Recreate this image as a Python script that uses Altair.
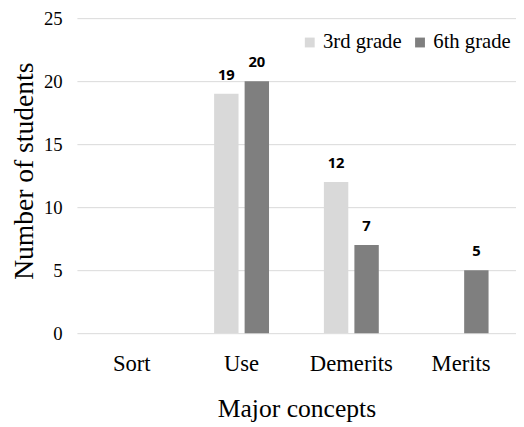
import altair as alt
import pandas as pd

categories = ["Sort", "Use", "Demerits", "Merits"]
grades = ["3rd grade", "6th grade"]
third_grade = [0, 19, 12, 0]
sixth_grade = [0, 20, 7, 5]
colors = ["#d9d9d9", "#7f7f7f"]
y_ticks = [0, 5, 10, 15, 20, 25]

rows = []
for c, a, b in zip(categories, third_grade, sixth_grade):
    rows.append({"concept": c, "grade": grades[0], "count": a})
    rows.append({"concept": c, "grade": grades[1], "count": b})
df = pd.DataFrame(rows)

serif = "Liberation Serif"

x_enc = alt.X(
    "concept:N",
    sort=categories,
    title="Major concepts",
    scale=alt.Scale(paddingInner=0.5, paddingOuter=0.25),
    axis=alt.Axis(
        labelAngle=0, domain=False, ticks=False, grid=False,
        labelFont=serif, labelFontSize=23, labelColor="black", labelPadding=20,
        titleFont=serif, titleFontSize=26, titleFontWeight="normal", titleColor="black",
        titleX=223, titleY=85, titleBaseline="alphabetic", titleAlign="center",
    ),
)
y_enc = alt.Y(
    "count:Q",
    title="Number of students",
    scale=alt.Scale(domain=[0, 25], nice=False),
    axis=alt.Axis(
        values=y_ticks, domain=False, ticks=False, gridColor="#d9d9d9", gridWidth=1,
        labelFont=serif, labelFontSize=19, labelColor="black", labelPadding=15,
        titleFont=serif, titleFontSize=28, titleFontWeight="normal", titleColor="black",
        titleX=-53, titleY=155, titleAngle=-90, titleAlign="center", titleBaseline="middle",
    ),
)
xoff = alt.XOffset("grade:N", sort=grades, scale=alt.Scale(paddingInner=0.2))
color = alt.Color(
    "grade:N", sort=grades,
    scale=alt.Scale(domain=grades, range=colors),
    legend=alt.Legend(
        title=None, orient="none", legendX=226, legendY=14, direction="horizontal",
        symbolType="square", symbolSize=100, symbolStrokeWidth=0, symbolOpacity=1,
        labelFont=serif, labelFontSize=21, labelColor="black", labelOffset=3,
        columnPadding=8, padding=0,
    ),
)

base = alt.Chart(df).encode(x=x_enc, y=y_enc, xOffset=xoff)

bars = base.mark_bar().encode(color=color)

labels = base.transform_filter("datum.count > 0").mark_text(
    font="Noto Sans", fontWeight="bold", fontSize=15, color="black",
    baseline="alphabetic", dy=-14,
).encode(
    text=alt.Text("count:Q"),
)

chart = alt.layer(bars, labels).properties(
    width=446, height=320,
    autosize=alt.AutoSizeParams(type="none"),
    padding={"left": 70, "top": 7, "right": 0, "bottom": 92},
).configure_view(stroke=None).configure_axis(
    labelFont=serif, titleFont=serif
).configure_legend(
    labelFont=serif, labelFontSize=21
)

chart.save("out.html", embed_options={"renderer": "svg", "actions": False})
